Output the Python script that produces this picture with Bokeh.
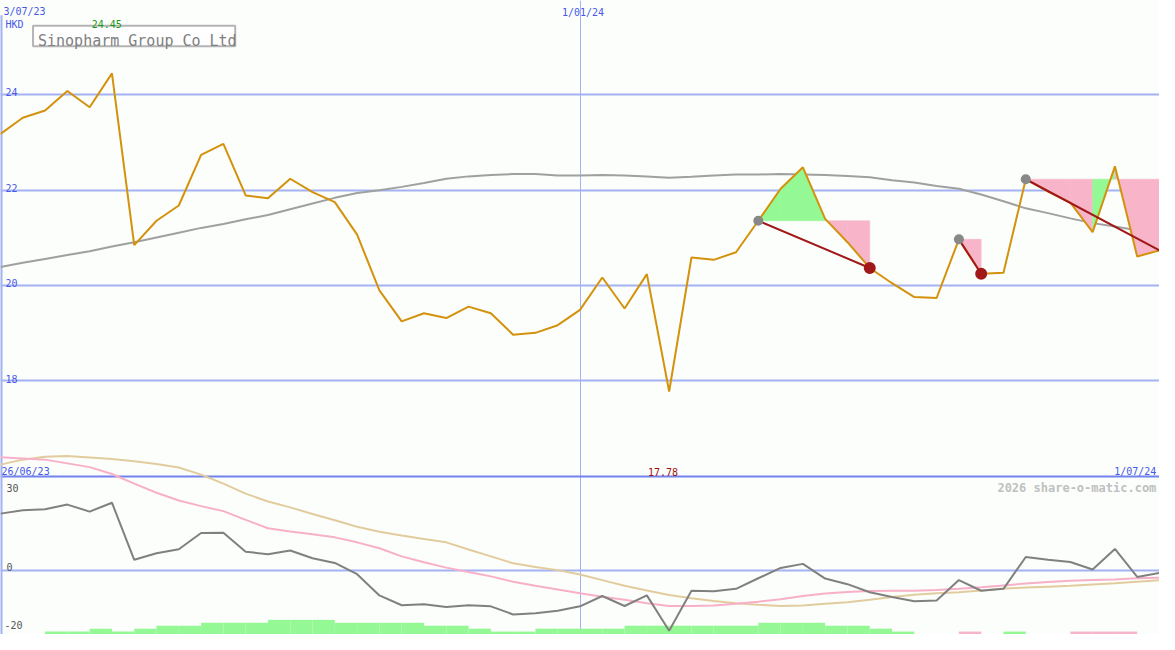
from bokeh.plotting import figure
from bokeh.models import Range1d, Label
from bokeh.embed import file_html
from bokeh.resources import INLINE

# ---------------- data (weekly, starting 3/07/23) ----------------
weeks = list(range(53))
price = [23.18, 23.52, 23.67, 24.08, 23.74, 24.45, 20.85, 21.36, 21.68, 22.74,
         22.97, 21.89, 21.83, 22.24, 21.96, 21.75, 21.07, 19.90, 19.25, 19.42,
         19.32, 19.56, 19.42, 18.97, 19.01, 19.17, 19.49, 20.17, 19.52, 20.24,
         17.78, 20.59, 20.54, 20.70, 21.36, 22.03, 22.48, 21.40, 20.91, 20.37,
         20.05, 19.76, 19.74, 20.97, 20.25, 20.27, 22.23, 21.97, 21.74, 21.12,
         22.50, 20.61, 20.74]
ma_long = [20.39, 20.48, 20.56, 20.64, 20.72, 20.82, 20.91, 21.01, 21.11, 21.21,
           21.29, 21.39, 21.48, 21.60, 21.72, 21.84, 21.94, 22.00, 22.07, 22.15,
           22.24, 22.29, 22.32, 22.34, 22.34, 22.31, 22.31, 22.32, 22.31, 22.29,
           22.26, 22.28, 22.31, 22.33, 22.33, 22.34, 22.33, 22.32, 22.30, 22.27,
           22.21, 22.16, 22.09, 22.03, 21.91, 21.77, 21.62, 21.52, 21.41, 21.31,
           21.24, 21.16, 21.07]
osc = [18.1, 19.2, 19.5, 21.0, 18.75, 21.6, 3.3, 5.4, 6.7, 11.9,
       12.0, 5.9, 5.1, 6.3, 3.8, 2.3, -1.3, -8.1, -11.25, -10.9,
       -11.8, -11.25, -11.6, -14.2, -13.85, -13.0, -11.6, -8.3, -11.5, -8.1,
       -19.4, -6.6, -6.8, -6.0, -2.6, 0.7, 2.0, -2.7, -4.5, -7.1,
       -8.6, -10.0, -9.7, -3.2, -6.6, -6.0, 4.2, 3.3, 2.6, 0.2,
       6.8, -2.2, -0.9]
osc_fast = [36.2, 35.8, 35.4, 34.2, 33.0, 30.8, 27.7, 24.8, 22.3, 20.5,
            18.9, 16.1, 13.4, 12.4, 11.5, 10.5, 8.9, 7.0, 4.4, 2.5,
            0.8, -0.6, -2.0, -3.7, -5.0, -6.2, -7.4, -8.5, -9.5, -10.6,
            -11.5, -11.5, -11.3, -10.8, -10.1, -9.3, -8.3, -7.5, -7.0, -6.7,
            -6.6, -6.6, -6.4, -6.0, -5.5, -4.9, -4.3, -3.8, -3.4, -3.2,
            -3.0, -2.6, -2.4]
osc_slow = [33.8, 35.4, 36.3, 36.6, 36.1, 35.6, 34.9, 34.0, 32.9, 30.6,
            27.7, 24.5, 22.0, 20.1, 18.0, 16.0, 13.9, 12.3, 11.1, 10.0,
            8.9, 6.6, 4.4, 2.2, 1.0, 0.0, -1.4, -3.2, -5.0, -6.5,
            -8.0, -9.0, -9.9, -10.6, -11.1, -11.5, -11.3, -10.8, -10.3, -9.5,
            -8.6, -7.9, -7.4, -7.1, -6.5, -5.9, -5.6, -5.3, -5.0, -4.6,
            -4.2, -3.7, -3.2]
hist = [0, 0, 1, 1, 2, 1, 2, 3, 3, 4, 4, 4, 5, 5, 5, 4, 4, 4, 4, 3,
        3, 2, 1, 1, 2, 2, 2, 2, 3, 3, 3, 3, 3, 3, 4, 4, 4, 3, 3, 2,
        1, 0, 0, -1, 0, 1, 0, 0, -1, -1, -1, 0]
trend_start = [34, 43, 46]
trend_end = [39, 44, 52]
end_marked = [True, True, False]
price_ticks = [24, 22, 20, 18]
ind_ticks = [30, 0, -20]
date_top_left = "3/07/23"
date_mid = "1/01/24"
mid_week = 26
date_bottom_left = "26/06/23"
date_bottom_right = "1/07/24"
currency = "HKD"
title = "Sinopharm Group Co Ltd"
credit = "2026 share-o-matic.com"

# ---------------- styling ----------------
BG = "#fbfefb"
GRID = "#a4b2f4"
SEP = "#7282ee"
BLUE = "#4858e8"
ORANGE = "#d4920c"
GREEN_F = "#94f894"
PINK_F = "#f8b4c8"
DARKRED = "#a01818"
MONO = "DejaVu Sans Mono"

# reference-pixel helpers (layout only)
PXW = 22.6
def wx(px):
    return px / PXW
def py(px):
    return 24 - (px - 96.7) / 48.9

p = figure(width=1159, height=634, output_backend="svg", toolbar_location=None,
           x_axis_location=None, y_axis_location=None, min_border=0,
           x_range=Range1d(0, 52), y_range=Range1d(py(650), py(0)),
           background_fill_color=BG, border_fill_color=BG, outline_line_color=None)
p.extra_y_ranges = {"ind": Range1d(-(650 - 584) / 3.2, 584 / 3.2),
                    "hist": Range1d(0, 650 / 3.0)}
p.xgrid.visible = False
p.ygrid.visible = False

# grid lines
p.hspan(y=price_ticks, line_color=GRID, line_width=2)
p.vspan(x=[mid_week], line_color=GRID, line_width=1)
p.hspan(y=[0], line_color=GRID, line_width=2, y_range_name="ind")
p.hspan(y=[ind_ticks[0]], line_color=SEP, line_width=2, y_range_name="ind")
p.segment(x0=[0], y0=[py(15)], x1=[0], y1=[py(650)], line_color=GRID, line_width=4)

# histogram
hl = [w for w, h in zip(weeks[:-1], hist) if h != 0]
hr = [w + 1 for w, h in zip(weeks[:-1], hist) if h != 0]
ht = [abs(h) for h in hist if h != 0]
hc = [GREEN_F if h > 0 else PINK_F for h in hist if h != 0]
p.quad(left=hl, right=hr, bottom=0, top=ht, fill_color=hc, line_color=None,
       y_range_name="hist")

# lower indicator lines
p.line(weeks, osc_slow, line_color="#e2cc9e", line_width=2, y_range_name="ind")
p.line(weeks, osc_fast, line_color="#f8b0c8", line_width=2, y_range_name="ind")
p.line(weeks, osc, line_color="#808080", line_width=2, y_range_name="ind")

# long moving average
p.line(weeks, ma_long, line_color="#a0a0a0", line_width=2)

# trend fills
fx, fy, fc = [], [], []
for s, e in zip(trend_start, trend_end):
    lvl = price[s]
    for k in range(s, e):
        fx.append([weeks[k], weeks[k], weeks[k + 1], weeks[k + 1]])
        fy.append([lvl, price[k], price[k + 1], lvl])
        fc.append(GREEN_F if price[k + 1] > lvl else PINK_F)
p.patches(fx, fy, fill_color=fc, line_color=fc, line_width=0.5)

# price line
p.line(weeks, price, line_color=ORANGE, line_width=2)

# trend lines and markers
p.segment(x0=[weeks[s] for s in trend_start], y0=[price[s] for s in trend_start],
          x1=[weeks[e] for e in trend_end], y1=[price[e] for e in trend_end],
          line_color=DARKRED, line_width=2)
p.scatter([weeks[s] for s in trend_start], [price[s] for s in trend_start],
          size=10, fill_color="#888888", line_color=None)
p.scatter([weeks[e] for e, m in zip(trend_end, end_marked) if m],
          [price[e] for e, m in zip(trend_end, end_marked) if m],
          size=12, fill_color=DARKRED, line_color=None)

# title box
p.quad(left=[wx(33)], right=[wx(238)], bottom=[py(47)], top=[py(26)],
       fill_color="#fdfefd", line_color="#b4b4b4", line_width=2)

def lab(text, xpx, ypx, color=BLUE, size="10px", align="left", baseline="alphabetic",
        style="normal"):
    p.add_layout(Label(x=wx(xpx), y=py(ypx), text=text, text_color=color,
                       text_font=MONO, text_font_size=size, text_align=align,
                       text_baseline=baseline, text_font_style=style))

lab(title, 38, 41.5, color="#808080", size="15px")
lab(date_top_left, 3, 11)
lab(currency, 5, 24.5)
imax = price.index(max(price))
imin = price.index(min(price))
lab(f"{price[imax]:.2f}", imax * PXW - 20.5, 24.5, color="#1a981a")
lab(f"{price[imin]:.2f}", imin * PXW - 21.5, 483, color="#a01010")
lab(date_mid, mid_week * PXW + 3, 12, align="center")
for t in price_ticks:
    lab(str(t), 5, 96.7 + (24 - t) * 48.9 - 2.5)
lab(date_bottom_left, 1, 483)
lab(date_bottom_right, 1172, 483, align="right")
lab(credit, 1172, 500, color="#c0c0c0", size="12px", align="right", style="bold")
lab(str(ind_ticks[0]), 6, 499.5, color="#555555")
lab(str(ind_ticks[1]), 6, 581, color="#555555")
lab(str(ind_ticks[2]), 4, 640, color="#555555")

open("out.html", "w").write(file_html(p, INLINE))
